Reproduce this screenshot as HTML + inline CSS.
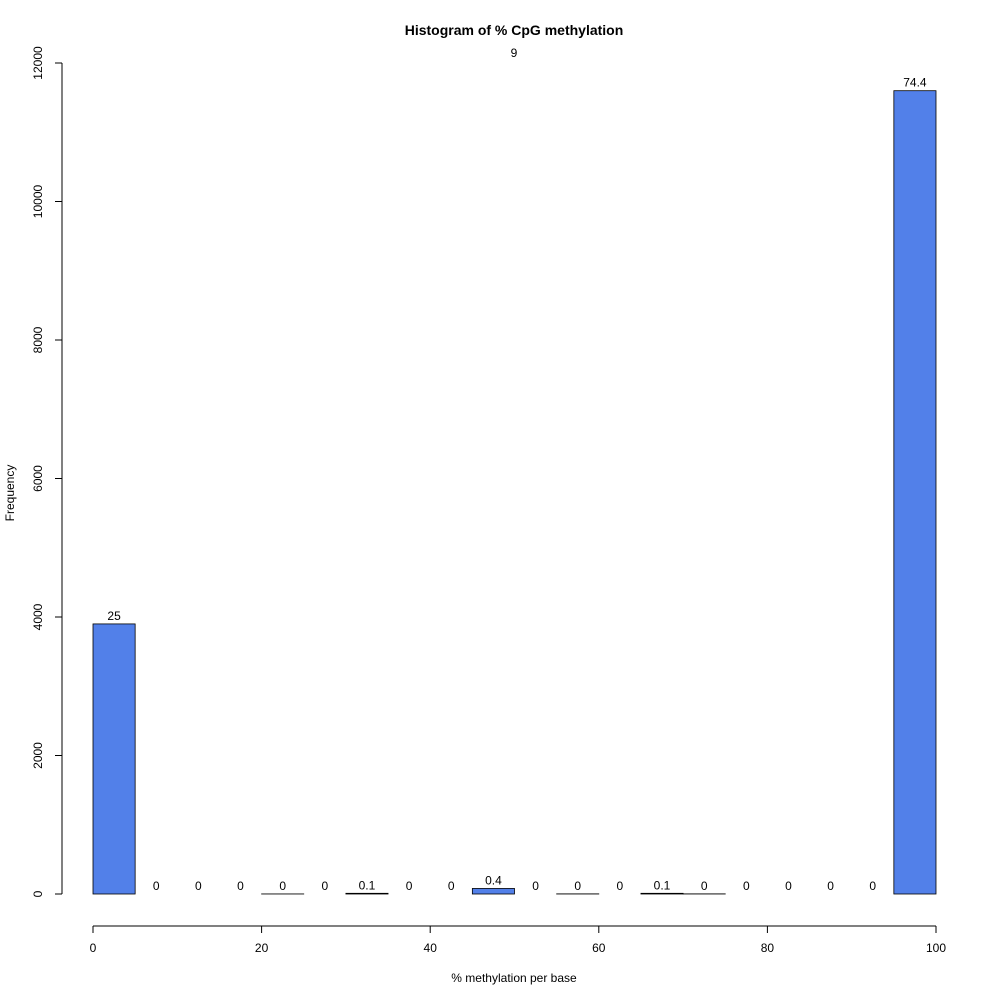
<!DOCTYPE html>
<html><head><meta charset="utf-8"><style>
body{margin:0;background:#fff}
svg{display:block;font-family:"Liberation Sans",Arial,sans-serif}
</style></head><body>
<svg id="chart" width="1000" height="1000">
<rect width="1000" height="1000" fill="#fff"/>
<text x="514" y="35" text-anchor="middle" font-size="14" font-weight="bold">Histogram of % CpG methylation</text>
<text x="514" y="57" text-anchor="middle" font-size="12">9</text>
<text x="514" y="982" text-anchor="middle" font-size="12">% methylation per base</text>
<text x="14" y="493" text-anchor="middle" font-size="12" transform="rotate(-90 14 493)">Frequency</text>
<g id="bars"></g><g id="axes"></g>
</svg>
<script>
const binStarts=[0,5,10,15,20,25,30,35,40,45,50,55,60,65,70,75,80,85,90,95];
const counts=[3900,0,0,0,1,0,10,0,0,80,0,2,0,10,2,0,0,0,0,11600];
const pctLabels=["25","0","0","0","0","0","0.1","0","0","0.4","0","0","0","0.1","0","0","0","0","0","74.4"];
const xTicks=[0,20,40,60,80,100];
const yTicks=[0,2000,4000,6000,8000,10000,12000];
const NS="http://www.w3.org/2000/svg";
const xs=v=>93+(936-93)*v/100;
const ys=v=>894-(894-63)*v/12000;
const bars=document.getElementById('bars'),axes=document.getElementById('axes');
function mk(tag,attrs,parent){const e=document.createElementNS(NS,tag);for(const k in attrs)e.setAttribute(k,attrs[k]);parent.appendChild(e);return e;}
binStarts.forEach((b,i)=>{
  const r=mk('rect',{x:xs(b),y:ys(counts[i]),width:xs(b+5)-xs(b),height:ys(0)-ys(counts[i]),fill:'#5280e9',stroke:'#000','stroke-width':0.8},bars);
  
  
  const t=mk('text',{x:(xs(b)+xs(b+5))/2,y:ys(counts[i])-4,'text-anchor':'middle','font-size':12},bars);
  t.textContent=pctLabels[i];
  
  
});
const xl=mk('line',{x1:xs(0),x2:xs(100),y1:926,y2:926,stroke:'#000'},axes);


xTicks.forEach(v=>{
  mk('line',{x1:xs(v),x2:xs(v),y1:926,y2:933,stroke:'#000'},axes);
  const t=mk('text',{x:xs(v),y:952,'text-anchor':'middle','font-size':12},axes);
  t.textContent=v;
  
  
});
const yl=mk('line',{x1:62,x2:62,y1:ys(0),y2:ys(12000),stroke:'#000'},axes);


yTicks.forEach(v=>{
  mk('line',{x1:55,x2:62,y1:ys(v),y2:ys(v),stroke:'#000'},axes);
  const t=mk('text',{x:42,y:ys(v),'text-anchor':'middle','font-size':12,transform:`rotate(-90 42 ${ys(v)})`},axes);
  t.textContent=v;
  
  
});
</script>
</body></html>
